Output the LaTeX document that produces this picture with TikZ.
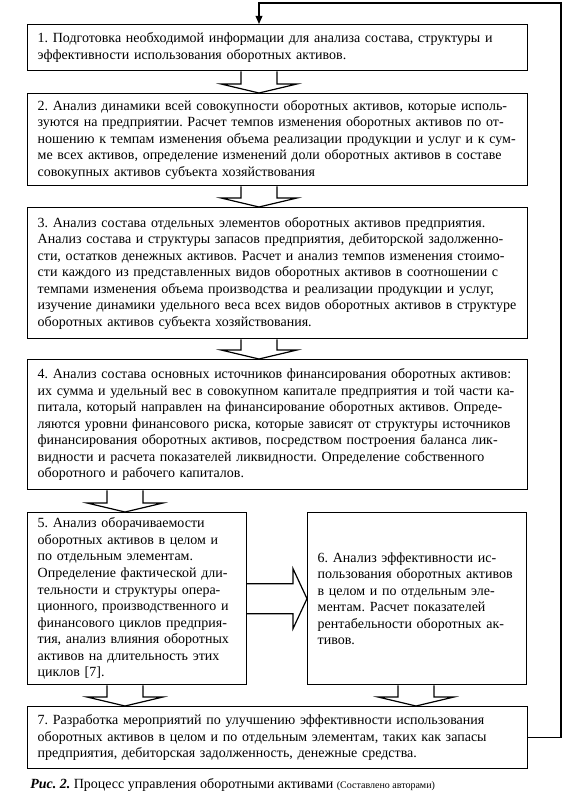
\documentclass[tikz,border=0pt]{standalone}
\usepackage{fontspec}
\setmainfont{Liberation Serif}
\usetikzlibrary{calc,arrows.meta}
\frenchspacing

\tikzset{
  stagebox/.style={draw, line width=1pt, anchor=north west, inner xsep=7.5pt, inner ysep=0pt,
    align=left, font=\fontsize{10.5}{12.4}\selectfont},
  wide/.style={text width=360pt},
  narrow/.style={text width=149pt},
  blockarrow/.style={draw, line width=0.9pt, fill=white, line join=miter},
}

% hollow block arrow pointing down, from node #1 to node #2 on column #3
\newcommand{\blockdown}[3]{%
  \draw[blockarrow] ($(#1.south -| #3)+(-18,0)$) -- ($(#2.north -| #3)+(-18,-9)$)
    -- ($(#2.north -| #3)+(-38,-9)$) -- (#2.north -| #3) -- ($(#2.north -| #3)+(38,-9)$)
    -- ($(#2.north -| #3)+(18,-9)$) -- ($(#1.south -| #3)+(18,0)$);
}

\begin{document}
\begin{tikzpicture}[x=0.75pt,y=0.75pt,yscale=-1,xscale=1]
    \useasboundingbox (0,0) rectangle (563,802);

    %Shape: Rectangle [id:dp01] 
    \node[stagebox, wide, minimum height=34.5pt] (stage1) at (27,24) {1. Подготовка необходимой информации для анализа состава, структуры и\\
    эффективности использования оборотных активов.};
    %Shape: Rectangle [id:dp02] 
    \node[stagebox, wide, minimum height=69pt] (stage2) at (27,93) {2. Анализ динамики всей совокупности оборотных активов, которые исполь-\\
    зуются на предприятии. Расчет темпов изменения оборотных активов по от-\\
    ношению к темпам изменения объема реализации продукции и услуг и к сум-\\
    ме всех активов, определение изменений доли оборотных активов в составе\\
    совокупных активов субъекта хозяйствования};
    %Shape: Rectangle [id:dp03] 
    \node[stagebox, wide, minimum height=98.25pt] (stage3) at (27,207) {3. Анализ состава отдельных элементов оборотных активов предприятия.\\
    Анализ состава и структуры запасов предприятия, дебиторской задолженно-\\
    сти, остатков денежных активов. Расчет и анализ темпов изменения стоимо-\\
    сти каждого из представленных видов оборотных активов в соотношении с\\
    темпами изменения объема производства и реализации продукции и услуг,\\
    изучение динамики удельного веса всех видов оборотных активов в структуре\\
    оборотных активов субъекта хозяйствования.};
    %Shape: Rectangle [id:dp04] 
    \node[stagebox, wide, minimum height=97.5pt] (stage4) at (27,359) {4. Анализ состава основных источников финансирования оборотных активов:\\
    их сумма и удельный вес в совокупном капитале предприятия и той части ка-\\
    питала, который направлен на финансирование оборотных активов. Опреде-\\
    ляются уровни финансового риска, которые зависят от структуры источников\\
    финансирования оборотных активов, посредством построения баланса лик-\\
    видности и расчета показателей ликвидности. Определение собственного\\
    оборотного и рабочего капиталов.};
    %Shape: Rectangle [id:dp05] 
    \node[stagebox, narrow, minimum height=129pt] (stage5) at (27,512) {5. Анализ оборачиваемости\\
    оборотных активов в целом и\\
    по отдельным элементам.\\
    Определение фактической дли-\\
    тельности и структуры опера-\\
    ционного, производственного и\\
    финансового циклов предприя-\\
    тия, анализ влияния оборотных\\
    активов на длительность этих\\
    циклов [7].};
    %Shape: Rectangle [id:dp06] 
    \node[stagebox, narrow, minimum height=129pt] (stage6) at (307,512) {6. Анализ эффективности ис-\\
    пользования оборотных активов\\
    в целом и по отдельным эле-\\
    ментам. Расчет показателей\\
    рентабельности оборотных ак-\\
    тивов.};
    %Shape: Rectangle [id:dp07] 
    \node[stagebox, wide, minimum height=46.5pt] (stage7) at (27,706) {7. Разработка мероприятий по улучшению эффективности использования\\
    оборотных активов в целом и по отдельным элементам, таких как запасы\\
    предприятия, дебиторская задолженность, денежные средства.};

    %Text Node
    \node[anchor=west, inner sep=0pt, font=\fontsize{10.5}{12}\selectfont] (caption) at (30,785) {\textbf{\textit{Рис. 2.}} Процесс управления оборотными активами {\fontsize{7.5}{9}\selectfont (Составлено авторами)}};

    \coordinate (colmain) at (259,0);
    \coordinate (colleft) at (125,0);
    \coordinate (colright) at (416,0);
    \coordinate (fbcorner) at (561,3);

    %Block Arrows 
    \blockdown{stage1}{stage2}{colmain}
    \blockdown{stage2}{stage3}{colmain}
    \blockdown{stage3}{stage4}{colmain}
    \blockdown{stage4}{stage5}{colleft}
    \blockdown{stage5}{stage7}{colleft}
    \blockdown{stage6}{stage7}{colright}
    %Right Arrow 
    \draw[blockarrow] ($(stage5.east)+(0,-15)$) -- ($(stage6.west)+(-14,-15)$) -- ($(stage6.west)+(-14,-30)$)
      -- (stage6.west) -- ($(stage6.west)+(-14,30)$) -- ($(stage6.west)+(-14,15)$) -- ($(stage5.east)+(0,15)$);

    %Feedback Line 
    \draw[line width=1pt, -{Triangle[length=6pt,width=5pt]}] (stage7.east) -| (fbcorner) -| (stage1.north -| colmain);
\end{tikzpicture}
\end{document}
